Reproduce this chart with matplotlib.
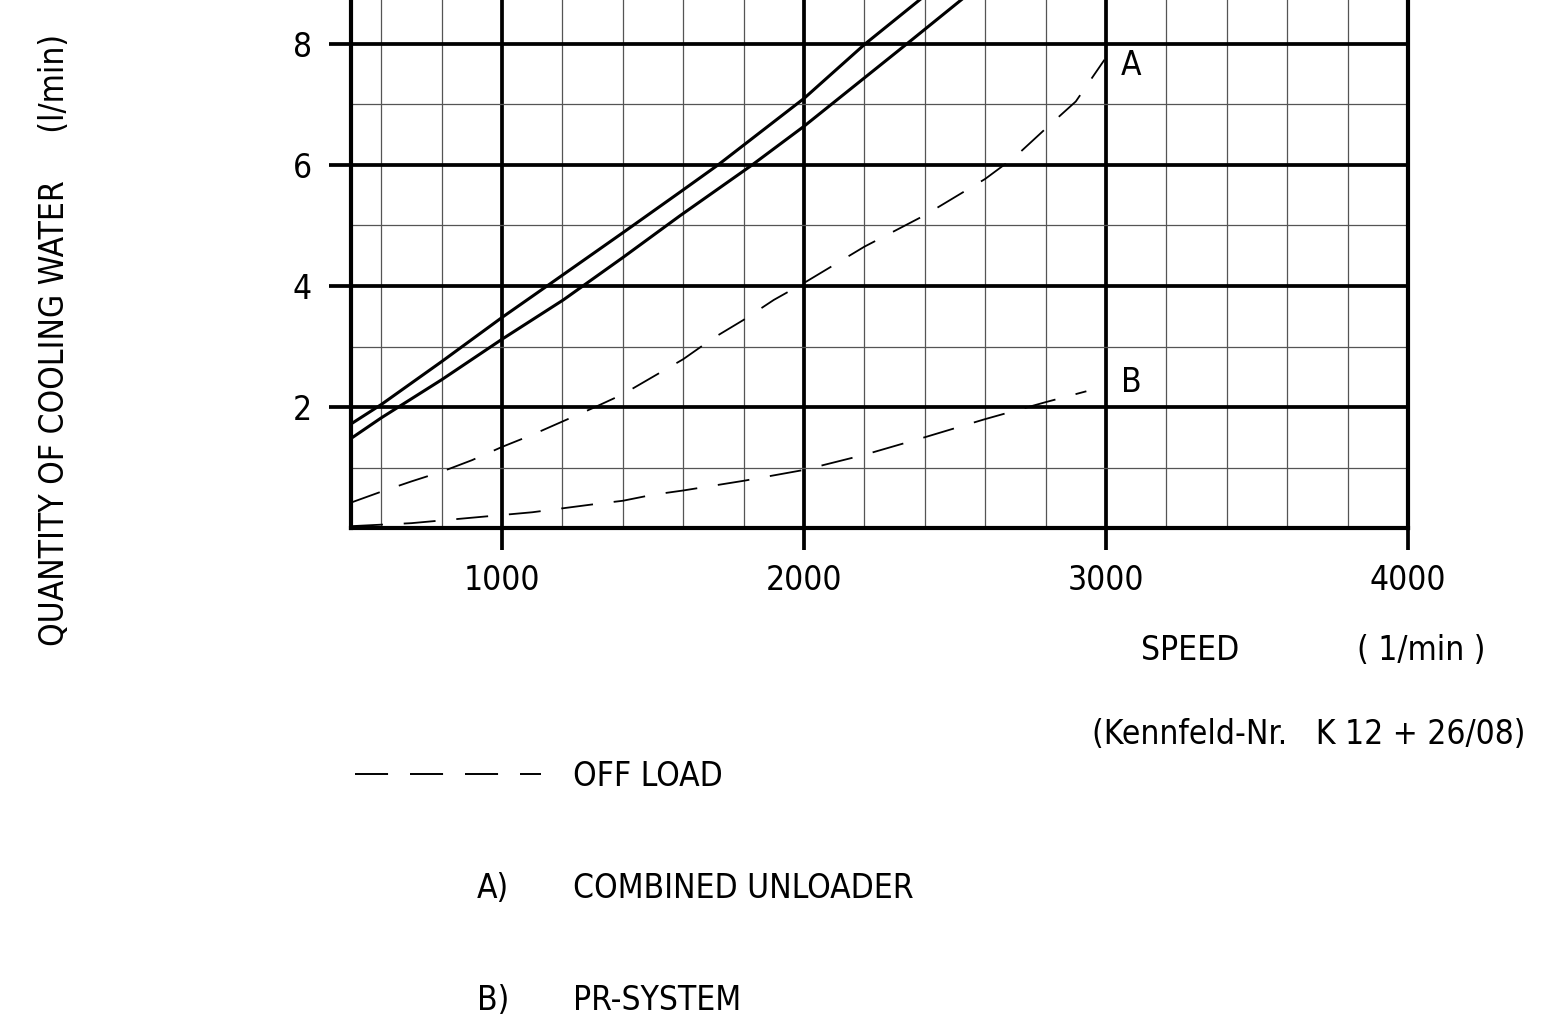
import matplotlib
matplotlib.use("Agg")
import matplotlib.pyplot as plt
from matplotlib import font_manager
from matplotlib.lines import Line2D

# speed (1/min) vs quantity of cooling water (l/min)
upper_speed = [500, 600, 800, 1000, 1149, 1400, 1589, 1715, 2000, 2202, 2450]
upper_water = [1.72, 2.04, 2.75, 3.48, 4.0, 4.88, 5.55, 6.0, 7.1, 8.0, 9.0]

lower_speed = [500, 600, 800, 1000, 1203, 1400, 1589, 1828, 2000, 2340, 2600]
lower_water = [1.48, 1.82, 2.45, 3.12, 3.77, 4.47, 5.16, 6.0, 6.64, 8.0, 9.05]

# off load, A) combined unloader
a_speed = [500, 600, 700, 800, 900, 1000, 1100, 1200, 1300, 1400, 1500, 1600,
           1700, 1800, 1900, 2000, 2200, 2400, 2600, 2700, 2800, 2900, 2995]
a_water = [0.42, 0.6, 0.77, 0.93, 1.12, 1.34, 1.54, 1.76, 1.98, 2.21, 2.5, 2.79,
           3.14, 3.44, 3.77, 4.05, 4.65, 5.17, 5.77, 6.14, 6.6, 7.05, 7.74]

# off load, B) PR-system
b_speed = [500, 700, 900, 1100, 1300, 1400, 1500, 1600, 1800, 2000, 2200,
           2400, 2600, 2800, 2935]
b_water = [0.03, 0.08, 0.17, 0.26, 0.39, 0.45, 0.55, 0.62, 0.78, 0.96, 1.21,
           1.5, 1.8, 2.08, 2.26]

x_major = [1000, 2000, 3000, 4000]
x_minor = [600, 800, 1200, 1400, 1600, 1800, 2200, 2400, 2600, 2800,
           3200, 3400, 3600, 3800]
y_major = [2, 4, 6, 8]
y_minor = [1, 3, 5, 7]

names = {f.name for f in font_manager.fontManager.ttflist}
if "Liberation Sans Narrow" in names:
    plt.rcParams["font.family"] = ["Liberation Sans Narrow", "DejaVu Sans"]
else:
    plt.rcParams["font.family"] = ["DejaVu Sans"]
    plt.rcParams["font.stretch"] = "condensed"
plt.rcParams["lines.scale_dashes"] = False

W, H = 1548, 1030
FS = 24


def px(x, y):
    return x / W, 1 - y / H


fig = plt.figure(figsize=(W / 100, H / 100), dpi=100)
ax = fig.add_axes([351 / W, 1 - 528 / H, (1408 - 351) / W, 528 / H])
ax.set_xlim(500, 4000)
ax.set_ylim(0, 528 / 60.5)

ax.set_xticks(x_major)
ax.set_xticks(x_minor, minor=True)
ax.set_yticks(y_major)
ax.set_yticks(y_minor, minor=True)
ax.set_axisbelow(True)
ax.grid(which="major", color="black", lw=2.7)
ax.grid(which="minor", color="#555555", lw=0.9)
ax.tick_params(which="major", length=16, width=2.7, labelsize=FS)
ax.tick_params(axis="x", which="major", pad=10)
ax.tick_params(axis="y", which="major", pad=12)
ax.tick_params(which="minor", length=0)
ax.spines["top"].set_visible(False)
for s in ["left", "bottom", "right"]:
    ax.spines[s].set_linewidth(3.0)

ax.plot(upper_speed, upper_water, color="black", lw=2.2)
ax.plot(lower_speed, lower_water, color="black", lw=2.2)
ax.plot(a_speed, a_water, color="black", lw=1.3, dashes=(22, 14.5))
ax.plot(b_speed, b_water, color="black", lw=1.3, dashes=(23, 15))

ax.text(3050, 7.64, "A", fontsize=FS, ha="left", va="center")
ax.text(3050, 2.41, "B", fontsize=FS, ha="left", va="center")

fig.text(*px(55, 340), "QUANTITY OF COOLING WATER     (l/min)", fontsize=FS,
         rotation=90, ha="center", va="center")
fig.text(*px(1190, 650), "SPEED", fontsize=FS, ha="center", va="center")
fig.text(*px(1421, 650), "( 1/min )", fontsize=FS, ha="center", va="center")
fig.text(*px(1309, 735), "(Kennfeld-Nr.   K 12 + 26/08)", fontsize=FS,
         ha="center", va="center")

# legend block below the chart
fig.add_artist(Line2D([355 / W, 541 / W], [1 - 774 / H] * 2, color="black",
                      lw=1.4, dashes=(23.8, 15.8)))
fig.text(*px(573, 777), "OFF LOAD", fontsize=FS, ha="left", va="center")
fig.text(*px(477, 888), "A)", fontsize=FS, ha="left", va="center")
fig.text(*px(573, 888), "COMBINED UNLOADER", fontsize=FS, ha="left", va="center")
fig.text(*px(477, 1000), "B)", fontsize=FS, ha="left", va="center")
fig.text(*px(573, 1000), "PR-SYSTEM", fontsize=FS, ha="left", va="center")

fig.savefig("out.png", dpi=100, facecolor="white")
